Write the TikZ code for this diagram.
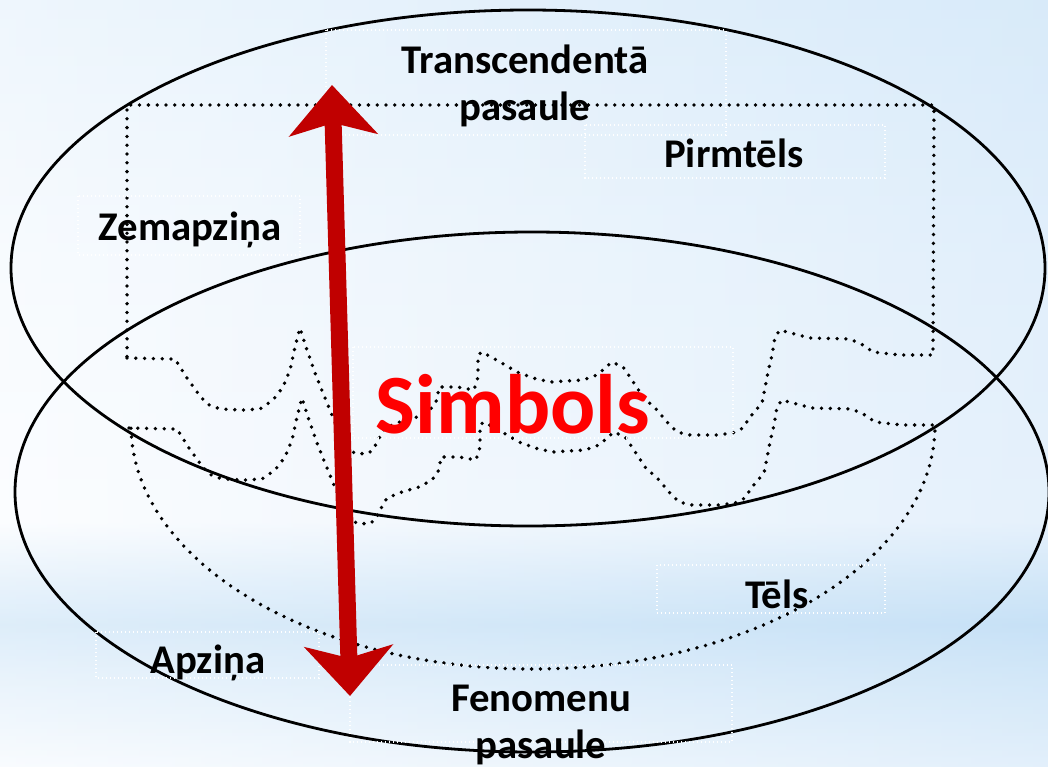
\documentclass[tikz,border=0pt]{standalone}
\usepackage{fontspec}
\setmainfont{Carlito}
\usetikzlibrary{arrows.meta}

\definecolor{arrowred}{HTML}{C00000}
\definecolor{symred}{HTML}{FF0000}
\definecolor{skyT}{HTML}{E6F2FC}
\definecolor{skyM}{HTML}{F4F9FE}
\definecolor{skyW}{HTML}{FAFCFF}
\definecolor{skyC}{HTML}{DDEDFA}
\definecolor{skyB}{HTML}{CCE4F7}
\definecolor{skyD}{HTML}{F6FAFE}
\definecolor{skyR}{HTML}{BFDDF6}

\pgfdeclareverticalshading{skyband}{100bp}{color(0bp)=(skyD); color(25bp)=(skyD);
  color(31bp)=(skyC); color(34.3bp)=(skyB); color(37bp)=(skyC); color(41bp)=(skyW);
  color(58bp)=(skyM); color(75bp)=(skyT); color(100bp)=(skyT)}

% border between the two worlds, drawn left to right
\newcommand\wavepath{-- (175,359) -- (187,378) -- (197,392) -- (207,404) -- (220,409)
  -- (243,410) -- (260,409) -- (273,400) -- (283,387) -- (290,370) -- (295,347)
  -- (300,328) -- (307,350) -- (315,373) -- (323,393) -- (332,415) -- (342,437)
  -- (354,453) -- (367,454) -- (373,450) -- (378,440) -- (385,428) -- (400,422)
  -- (417,417) -- (430,410) -- (437,400) -- (439,387) -- (457,387) -- (474,390)
  -- (478,377) -- (478,355) -- (482,352) -- (500,362) -- (517,372) -- (533,378)
  -- (550,382) -- (583,380) -- (597,375) -- (612,362) -- (623,367) -- (632,380)
  -- (643,397) -- (657,410) -- (667,422) -- (677,432) -- (690,435) -- (717,435)
  -- (733,433) -- (743,428) -- (750,417) -- (762,403) -- (765,388) -- (768,372)
  -- (772,355) -- (775,337) -- (780,330) -- (787,332) -- (810,338) -- (850,339)
  -- (863,345) -- (873,352) -- (900,355) -- (933,355)}

\begin{document}
\begin{tikzpicture}[x=0.25mm, y=-0.25mm,
  lbl/.style={font=\bfseries\fontsize{29}{34}\selectfont, align=center, inner sep=0pt},
  sym/.style={font=\bfseries\fontsize{60}{66}\selectfont, text=symred, inner sep=0pt},
  world/.style={draw=black, line width=0.7mm},
  dots/.style={draw=black, line width=0.95mm, line cap=round, dash pattern=on 0pt off 2.2mm},
  tbox/.style={draw=white, line width=0.3mm, dash pattern=on 0.3mm off 0.7mm},
  link/.style={draw=arrowred, line width=4.25mm,
               {Stealth[length=12.5mm, width=22mm, inset=3mm]}-{Stealth[length=12.5mm, width=22mm, inset=3mm]}}
]
\useasboundingbox (0,0) rectangle (1048,767);
\clip (0,0) rectangle (1048,767);

% background
\shade[shading=skyband] (0,0) rectangle (1048,767);
\shade[left color=white, right color=skyR, opacity=0.35] (0,0) rectangle (1048,767);

% unconscious box and conscious bowl
\draw[dots] (127,358) \wavepath -- (934,105) -- (127,105) -- cycle;
\draw[dots, shift={(2,70)}] (127,358) \wavepath
  arc[start angle=0, end angle=180, x radius=402, y radius=244] -- cycle;

% the two worlds
\draw[world] (528,268) ellipse [x radius=517, y radius=258];
\draw[world] (532,492) ellipse [x radius=517, y radius=260];

% text frames
\draw[tbox] (326,30) rectangle (726,135);
\draw[tbox] (585,125) rectangle (885,178);
\draw[tbox] (78,196) rectangle (300,255);
\draw[tbox] (353,347) rectangle (733,438);
\draw[tbox] (657,565) rectangle (885,613);
\draw[tbox] (96,632) rectangle (319,678);
\draw[tbox] (350,665) rectangle (732,742);

% symbol axis
\coordinate (up) at (332,85);
\coordinate (down) at (350,696);
\draw[link] (down) -- (up);

\node[lbl] (trans) at (525,86) {Transcendentā\\pasaule};
\node[lbl] (pirm)  at (734,153) {Pirmtēls};
\node[lbl] (zem)   at (190,230) {Zemapziņa};
\node[sym] (simb)  at (513,404) {Simbols};
\node[lbl] (tels)  at (777,594) {Tēls};
\node[lbl] (apz)   at (208,663) {Apziņa};
\node[lbl] (fen)   at (541,725) {Fenomenu\\pasaule};
\end{tikzpicture}
\end{document}
